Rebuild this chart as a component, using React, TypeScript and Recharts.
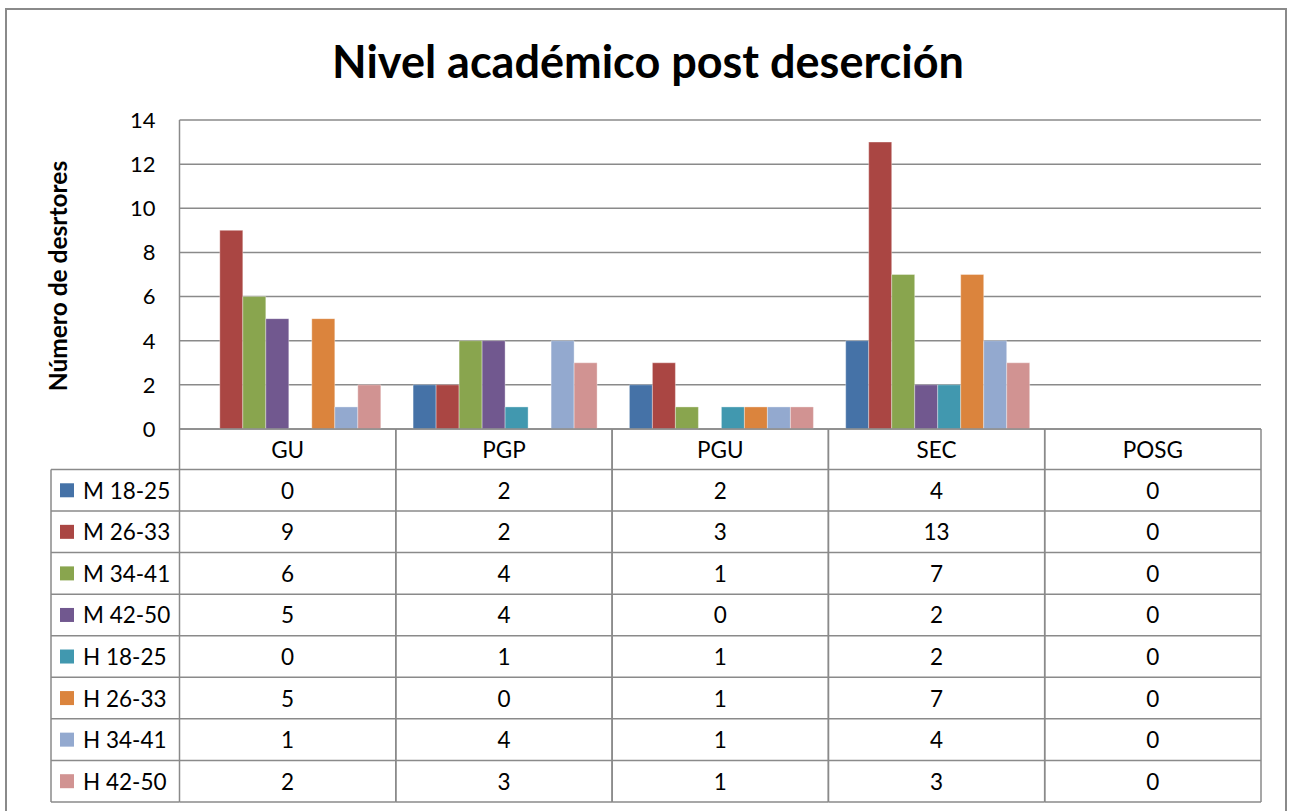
import React from 'react';
import { BarChart, Bar, XAxis, YAxis, CartesianGrid } from 'recharts';

const categories = ['GU', 'PGP', 'PGU', 'SEC', 'POSG'];
const seriesNames = ['M 18-25', 'M 26-33', 'M 34-41', 'M 42-50', 'H 18-25', 'H 26-33', 'H 34-41', 'H 42-50'];
const m1825 = [0, 2, 2, 4, 0];
const m2633 = [9, 2, 3, 13, 0];
const m3441 = [6, 4, 1, 7, 0];
const m4250 = [5, 4, 0, 2, 0];
const h1825 = [0, 1, 1, 2, 0];
const h2633 = [5, 0, 1, 7, 0];
const h3441 = [1, 4, 1, 4, 0];
const h4250 = [2, 3, 1, 3, 0];
const yTicks = [0, 2, 4, 6, 8, 10, 12, 14];
const colors = ['#4572A7', '#AA4643', '#89A54E', '#71588F', '#4198AF', '#DB843D', '#93A9CF', '#D19392'];

const seriesValues = [m1825, m2633, m3441, m4250, h1825, h2633, h3441, h4250];
const data = categories.map((c, i) => {
  const row: any = { cat: c };
  seriesValues.forEach((s, k) => { row['s' + k] = s[i]; });
  return row;
});

const FONT = 'Lato, "Open Sans", sans-serif';
const LINE = '#8a8a8a';
const COL_W = (1261 - 179.5) / 5;
const HEADER_H = 40.5;
const ROW_H = 41.56;
const TFS = 22.5;

function TableColumn(props: any) {
  const { x, y, payload, index } = props;
  const i = payload && typeof payload.index === 'number' ? payload.index : index;
  const left = x - COL_W / 2;
  const right = x + COL_W / 2;
  const top = y;
  const bottom = top + HEADER_H + ROW_H * seriesNames.length;
  const els: any[] = [];
  els.push(<line key="r" x1={right} x2={right} y1={top} y2={bottom} stroke={LINE} strokeWidth={1.5} />);
  els.push(<line key="l" x1={left} x2={left} y1={top} y2={bottom} stroke={LINE} strokeWidth={1.5} />);
  els.push(<line key="t" x1={left} x2={right} y1={top} y2={top} stroke={LINE} strokeWidth={1.5} />);
  els.push(
    <text key="h" x={x} y={top + HEADER_H / 2} textAnchor="middle" dominantBaseline="central"
      fontFamily={FONT} fontSize={TFS} fill="#000">{categories[i]}</text>
  );
  seriesNames.forEach((name, k) => {
    const ry = top + HEADER_H + ROW_H * k;
    els.push(<line key={'h' + k} x1={left} x2={right} y1={ry} y2={ry} stroke={LINE} strokeWidth={1.5} />);
    els.push(
      <text key={'v' + k} x={x} y={ry + ROW_H / 2} textAnchor="middle" dominantBaseline="central"
        fontFamily={FONT} fontSize={TFS} fill="#000">{seriesValues[k][i]}</text>
    );
  });
  els.push(<line key="b" x1={left} x2={right} y1={bottom} y2={bottom} stroke={LINE} strokeWidth={1.5} />);
  if (i === 0) {
    const lx = 51;
    els.push(<line key="ll" x1={lx} x2={lx} y1={top + HEADER_H} y2={bottom} stroke={LINE} strokeWidth={1.5} />);
    seriesNames.forEach((name, k) => {
      const ry = top + HEADER_H + ROW_H * k;
      els.push(<line key={'lh' + k} x1={lx} x2={left} y1={ry} y2={ry} stroke={LINE} strokeWidth={1.5} />);
      els.push(<rect key={'sw' + k} x={60} y={ry + ROW_H / 2 - 7} width={14} height={14} fill={colors[k]} />);
      els.push(
        <text key={'ln' + k} x={83} y={ry + ROW_H / 2} dominantBaseline="central"
          fontFamily={FONT} fontSize={TFS} fill="#000">{name}</text>
      );
    });
    els.push(<line key="lb" x1={lx} x2={left} y1={bottom} y2={bottom} stroke={LINE} strokeWidth={1.5} />);
  }
  return <g>{els}</g>;
}

function YLabel() {
  return (
    <text x={57} y={276} transform="rotate(-90 57 276)" textAnchor="middle" dominantBaseline="central"
      fontFamily={FONT} fontSize={24.5} fontWeight="bold" fill="#000">Número de desrtores</text>
  );
}

export default function App() {
  return (
    <div style={{ position: 'absolute', left: 0, top: 0, width: 1296, height: 811, background: '#fff', overflow: 'hidden' }}>
      <div style={{ position: 'absolute', left: 5, top: 8, width: 1282, height: 820, border: '2px solid #8a8a8a', boxSizing: 'border-box' }} />
      <div style={{ position: 'absolute', left: 0, top: 33, width: 1296, textAlign: 'center', fontFamily: FONT, fontWeight: 'bold', fontSize: 45, color: '#000', lineHeight: '56px' }}>
        Nivel académico post deserción
      </div>
      <div style={{ position: 'absolute', left: 0, top: 0 }}>
        <BarChart width={1296} height={811} data={data} margin={{ top: 120, right: 35, bottom: 9, left: 99.5 }}
          barCategoryGap="8%" barGap={0}>
          <CartesianGrid vertical={false} stroke={LINE} strokeWidth={1.5} />
          <XAxis dataKey="cat" height={373} axisLine={false} tickLine={false} tickSize={0} tickMargin={0}
            interval={0} tick={<TableColumn />} />
          <YAxis width={80} domain={[0, 14]} ticks={yTicks} interval={0} axisLine={{ stroke: LINE, strokeWidth: 1.5 }}
            tickLine={false} tickSize={0} tickMargin={24}
            tick={{ fontFamily: FONT, fontSize: 22, fill: '#000' }} label={<YLabel />} />
          {seriesNames.map((n, k) => (
            <Bar key={n} dataKey={'s' + k} name={n} fill={colors[k]} stroke="rgba(255,255,255,0.35)" strokeWidth={1}
              isAnimationActive={false} />
          ))}
        </BarChart>
      </div>
    </div>
  );
}
